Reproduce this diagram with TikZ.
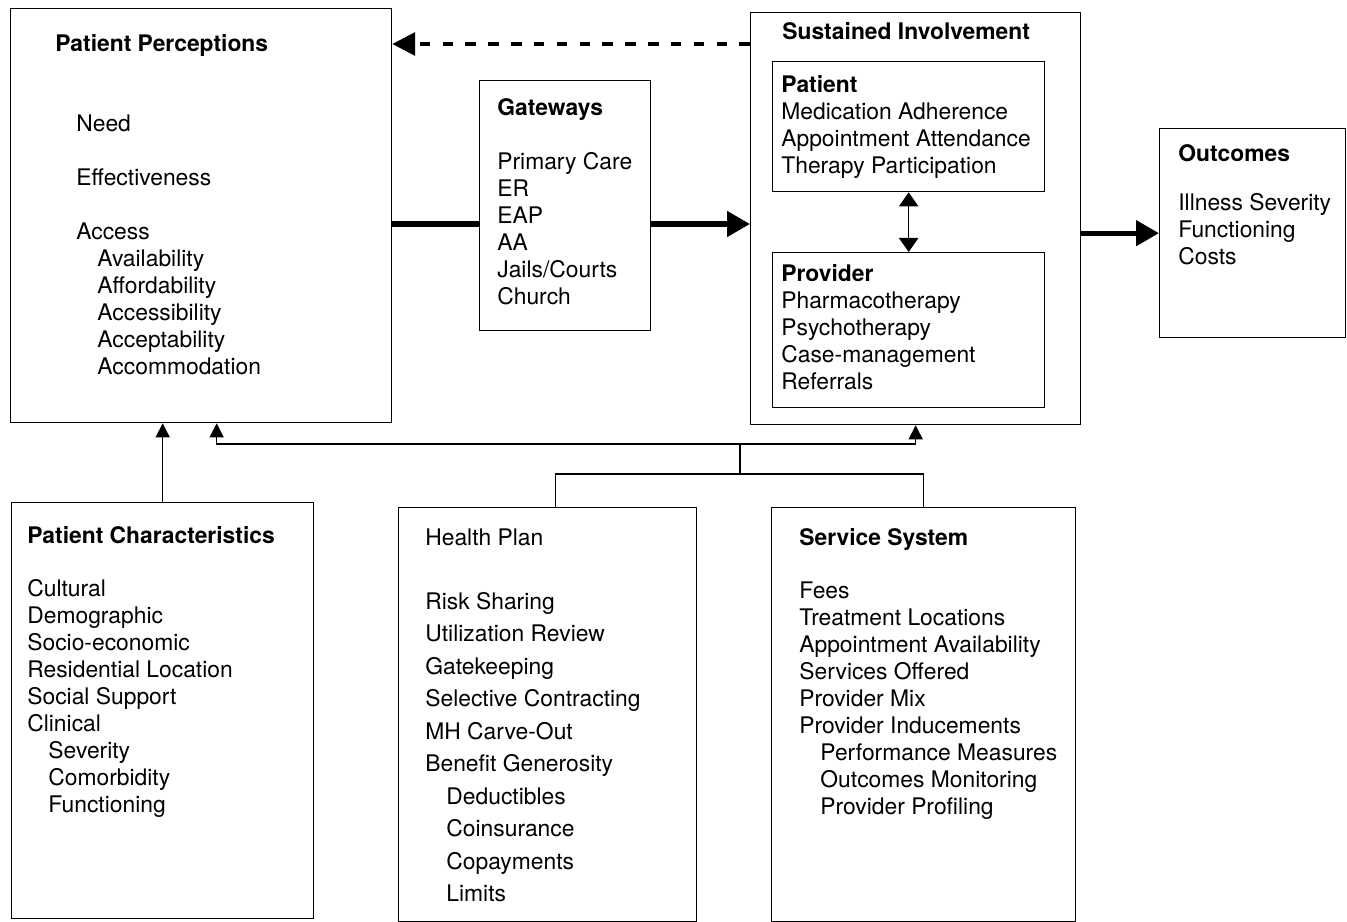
\documentclass[tikz,border=0pt]{standalone}
\usepackage{fontspec}
\setmainfont{TeX Gyre Heros}
\usetikzlibrary{arrows.meta}
\newcommand{\indnt}{\hspace*{12pt}}
\begin{document}
\begin{tikzpicture}[x=0.02cm, y=-0.02cm, >={Triangle[length=8pt,width=8pt]},
  box/.style={draw, line width=0.8pt, anchor=north west, inner sep=0pt},
  txt/.style={anchor=north west, inner sep=0pt, align=left, font=\fontsize{13}{15.4}\selectfont},
  flow/.style={line width=3pt},
  bigtip/.style={-{Triangle[length=13pt,width=14pt]}},
  fb/.style={line width=0.8pt}]
\useasboundingbox (0,0) rectangle (1347,922);
% boxes
\node [box, minimum width=7.62cm, minimum height=8.28cm] (percep) at (10,8) {};
\node [box, minimum width=3.42cm, minimum height=5cm] (gate) at (479,80) {};
\node [box, minimum width=6.6cm, minimum height=8.24cm] (sustain) at (750,12) {};
\node [box, minimum width=5.44cm, minimum height=2.6cm] (ptbox) at (772,61) {};
\node [box, minimum width=5.44cm, minimum height=3.1cm] (pvbox) at (772,252) {};
\node [box, minimum width=3.72cm, minimum height=4.18cm] (outc) at (1159,128) {};
\node [box, minimum width=6.04cm, minimum height=8.32cm] (pchar) at (11,502) {};
\node [box, minimum width=5.96cm, minimum height=8.28cm] (hplan) at (398,507) {};
\node [box, minimum width=6.08cm, minimum height=8.28cm] (ssys) at (771,507) {};
% texts
\node [txt] (pptitle) at (55,34) {\textbf{Patient Perceptions}};
\node [txt] (pptext) at (76,114) {Need\\[15.4pt] Effectiveness\\[15.4pt] Access\\
  \indnt Availability\\ \indnt Affordability\\ \indnt Accessibility\\
  \indnt Acceptability\\ \indnt Accommodation};
\node [txt] (gwtext) at (497,98.5) {\textbf{Gateways}\\[15.1pt] Primary Care\\ ER\\ EAP\\ AA\\
  Jails/Courts\\ Church};
\node [txt] (sititle) at (782,22) {\textbf{Sustained Involvement}};
\node [txt] (pttext) at (781,75) {\textbf{Patient}\\ Medication Adherence\\
  Appointment Attendance\\ Therapy Participation};
\node [txt] (pvtext) at (781,264) {\textbf{Provider}\\ Pharmacotherapy\\ Psychotherapy\\
  Case-management\\ Referrals};
\node [txt] (octext) at (1178,144) {\textbf{Outcomes}\\[12.5pt] Illness Severity\\
  Functioning\\ Costs};
\node [txt] (pctext) at (27,526) {\textbf{Patient Characteristics}\\[14.8pt] Cultural\\
  Demographic\\ Socio-economic\\ Residential Location\\ Social Support\\ Clinical\\
  \indnt Severity\\ \indnt Comorbidity\\ \indnt Functioning};
\node [txt, font=\fontsize{13}{18.5}\selectfont] (hptext) at (425,528.5) {Health Plan\\[17.9pt]
  Risk Sharing\\ Utilization Review\\ Gatekeeping\\ Selective Contracting\\
  MH Carve-Out\\ Benefit Generosity\\ \indnt Deductibles\\ \indnt Coinsurance\\
  \indnt Copayments\\ \indnt Limits};
\node [txt] (sstext) at (799,528) {\textbf{Service System}\\[14.8pt] Fees\\
  Treatment Locations\\ Appointment Availability\\ Services Offered\\ Provider Mix\\
  Provider Inducements\\ \indnt Performance Measures\\ \indnt Outcomes Monitoring\\
  \indnt Provider Profiling};
% connectors
\coordinate (dashy) at (0,44);
\coordinate (flowy) at (0,224);
\coordinate (hub) at (740,444);
\coordinate (fork) at (740,474);
\draw [line width=2pt, dash pattern=on 6pt off 7pt, -{Triangle[length=13pt,width=13pt]}]
  (sustain.west |- dashy) -- (percep.east |- dashy);
\draw [flow] (percep.east |- flowy) -- (gate.west |- flowy);
\draw [flow, bigtip] (gate.east |- flowy) -- (sustain.west |- flowy);
\draw [flow, bigtip] (sustain.east |- outc.west) -- (outc.west);
\draw [fb, {Triangle[length=8pt,width=11pt]}-{Triangle[length=8pt,width=11pt]}]
  (ptbox.south) -- (pvbox.north);
\draw [fb, ->] (pchar.north) -- (pchar.north |- percep.south);
\draw [fb, ->] (hub) -| ([xshift=0.31cm]percep.south);
\draw [fb, ->] (hub) -| (sustain.south);
\draw [fb] (hub) -- (fork);
\draw [fb] ([xshift=0.16cm]hplan.north) |- (fork) -| (ssys.north);
\end{tikzpicture}
\end{document}
